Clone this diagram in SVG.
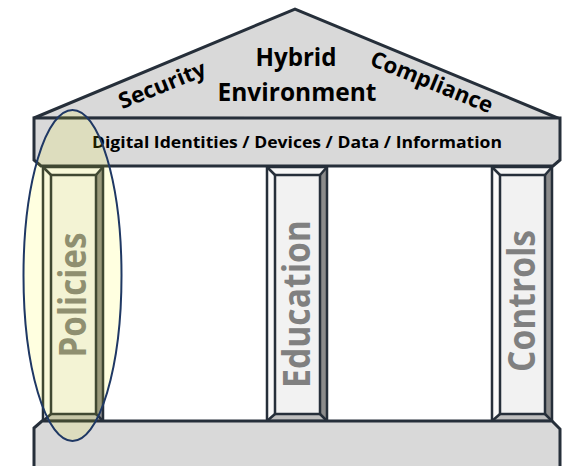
<svg xmlns="http://www.w3.org/2000/svg" width="564" height="466" viewBox="0 0 564 466">
<style>
.part{fill:#d9d9d9;stroke:#262f3a;stroke-width:3;stroke-linejoin:miter}
.edge{stroke:#262f3a;stroke-width:2.5;stroke-linejoin:miter}
.face{fill:#f2f2f2}
.lt{fill:#f9f9f9}
.tp{fill:#f7f7f7}
.rt{fill:#8c8c8c}
.bt{fill:#bfbfbf}
.t{font-family:"Open Sans","Noto Sans",sans-serif;font-weight:bold;fill:#000}
.col{font-family:"Open Sans","Noto Sans",sans-serif;font-weight:bold;fill:#808080;font-size:37px}
</style>
<defs>
<g id="bevel">
<rect x="0" y="0" width="60" height="254" class="face"/>
<polygon points="0,0 60,0 53,8 8,8" class="tp"/>
<polygon points="0,0 8,8 8,247 0,254" class="lt"/>
<polygon points="60,0 60,254 53,247 53,8" class="rt"/>
<polygon points="0,254 8,247 53,247 60,254" class="bt"/>
<g fill="none" class="edge">
<rect x="0" y="0" width="60" height="254"/>
<rect x="8" y="8" width="45" height="239"/>
<path d="M0,0 L8,8 M60,0 L53,8 M0,254 L8,247 M60,254 L53,247"/>
</g>
</g>
</defs>
<g id="roof">
<polygon points="34,118 295,9 560,119" class="part"/>
<text class="t" x="296" y="66" font-size="25" text-anchor="middle" textLength="81" lengthAdjust="spacingAndGlyphs">Hybrid</text>
<text class="t" x="297" y="101" font-size="25" text-anchor="middle" textLength="159" lengthAdjust="spacingAndGlyphs">Environment</text>
<text class="t" font-size="22" text-anchor="middle" transform="translate(165,92) rotate(-22)" textLength="92" lengthAdjust="spacingAndGlyphs">Security</text>
<text class="t" font-size="22" text-anchor="middle" transform="translate(429,89) rotate(22)" textLength="130" lengthAdjust="spacingAndGlyphs">Compliance</text>
</g>
<g id="entablature">
<path d="M34,118 H560 V160 L553,166 H41 L34,160 Z" class="part"/>
<text class="t" x="297" y="148" font-size="16" text-anchor="middle" textLength="410" lengthAdjust="spacingAndGlyphs">Digital Identities / Devices / Data / Information</text>
</g>
<g id="policies">
<use href="#bevel" x="43" y="167"/>
<text class="col" text-anchor="middle" transform="translate(86,295) rotate(-90)" textLength="125" lengthAdjust="spacingAndGlyphs">Policies</text>
</g>
<g id="education">
<use href="#bevel" x="267" y="167"/>
<text class="col" text-anchor="middle" transform="translate(310,304) rotate(-90)" textLength="168" lengthAdjust="spacingAndGlyphs">Education</text>
</g>
<g id="controls">
<use href="#bevel" x="492" y="167"/>
<text class="col" text-anchor="middle" transform="translate(535,301) rotate(-90)" textLength="142" lengthAdjust="spacingAndGlyphs">Controls</text>
</g>
<g id="base">
<path d="M34,468 V428 L42,421 H552 L560,429 V468" class="part"/>
</g>
<g id="highlight">
<ellipse cx="72.5" cy="275.5" rx="49" ry="165.5" fill="#ffff00" fill-opacity="0.12" stroke="#1f3864" stroke-width="2"/>
</g>
</svg>
